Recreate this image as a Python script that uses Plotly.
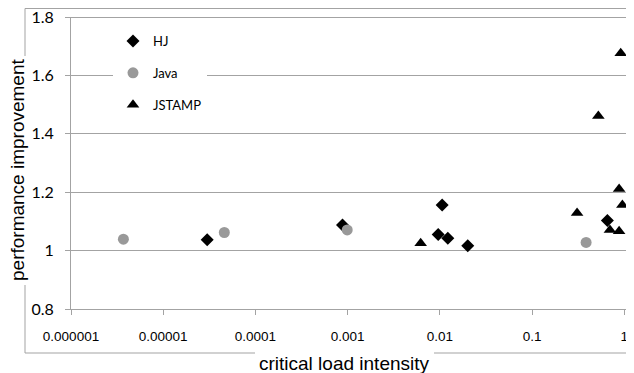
import plotly.graph_objects as go

# ---- data ----
hj_x = [3.0e-5, 8.8e-4, 0.0106, 0.0096, 0.0122, 0.0201, 0.656]
hj_y = [1.037, 1.088, 1.156, 1.055, 1.042, 1.017, 1.103]

java_x = [3.7e-6, 4.6e-5, 0.00099, 0.386]
java_y = [1.039, 1.062, 1.071, 1.028]

jstamp_x = [0.0062, 0.308, 0.524, 0.916, 0.88, 0.955, 0.70, 0.88]
jstamp_y = [1.025, 1.129, 1.461, 1.676, 1.211, 1.156, 1.071, 1.066]

x_tickvals = [1e-6, 1e-5, 1e-4, 1e-3, 1e-2, 1e-1, 1]
x_ticktext = ["0.000001", "0.00001", "0.0001", "0.001", "0.01", "0.1", "1"]
y_tickvals = [0.8, 1.0, 1.2, 1.4, 1.6, 1.8]
y_ticktext = ["0.8", "1", "1.2", "1.4", "1.6", "1.8"]

GRID = "#a3a3a3"
OFF = 8  # page body margin of the html page
W, H = 634 - OFF, 373 - OFF
ML, MR, MT = 71 - OFF, 7, 17 - OFF
PH = 292
MB = H - MT - PH
PW = W - ML - MR


def px2x(px):
    """page pixel x -> paper coordinate"""
    return (px - OFF - ML) / PW


def px2y(py):
    """page pixel y -> paper coordinate"""
    return (MT + PH - (py - OFF)) / PH


fig = go.Figure()
fig.add_trace(go.Scatter(x=hj_x, y=hj_y, mode="markers", name="HJ", legendgroup="a",
                         marker=dict(symbol="diamond", size=10, color="black")))
fig.add_trace(go.Scatter(x=java_x, y=java_y, mode="markers", name="Java", legendgroup="b",
                         marker=dict(symbol="circle", size=11, color="#999999")))
fig.add_trace(go.Scatter(x=jstamp_x, y=jstamp_y, mode="markers", name="JSTAMP", legendgroup="c",
                         marker=dict(symbol="triangle-up", size=11, color="black")))

line = dict(color=GRID, width=1)
shapes = [
    # top edge of plot (1.8 grid line)
    dict(type="line", xref="paper", yref="paper", x0=0, x1=1, y0=px2y(17.5), y1=px2y(17.5), line=line),
    # outer frame pieces, broken by the axis titles
    dict(type="line", xref="paper", yref="paper", x0=px2x(25), x1=px2x(634), y0=px2y(8.5), y1=px2y(8.5), line=line),
    dict(type="line", xref="paper", yref="paper", x0=px2x(25), x1=px2x(25), y0=px2y(8.5), y1=px2y(56), line=line),
    dict(type="line", xref="paper", yref="paper", x0=px2x(25), x1=px2x(25), y0=px2y(285), y1=px2y(353), line=line),
    dict(type="line", xref="paper", yref="paper", x0=px2x(25), x1=px2x(255), y0=px2y(353), y1=px2y(353), line=line),
    dict(type="line", xref="paper", yref="paper", x0=px2x(434), x1=px2x(634), y0=px2y(353), y1=px2y(353), line=line),
]

annotations = [
    dict(text="performance improvement", xref="paper", yref="paper", x=px2x(17), y=px2y(170),
         textangle=-90, showarrow=False, xanchor="center", yanchor="middle",
         font=dict(family="Liberation Sans, Arial", size=19, color="black")),
    dict(text="critical load intensity", xref="paper", yref="paper", x=px2x(344), y=px2y(363),
         showarrow=False, xanchor="center", yanchor="middle",
         font=dict(family="Liberation Sans, Arial", size=19, color="black")),
]

fig.update_layout(
    width=W, height=H,
    margin=dict(l=ML, r=MR, t=MT, b=MB, autoexpand=False),
    paper_bgcolor="white", plot_bgcolor="white",
    showlegend=True,
    legend=dict(x=px2x(113), y=px2y(26), xanchor="left", yanchor="top",
                bgcolor="white", borderwidth=0, tracegroupgap=12,
                font=dict(family="Lato, Open Sans", size=13, color="black")),
    shapes=shapes,
    annotations=annotations,
)

fig.update_xaxes(type="log", range=[-6, 0.03],
                 tickvals=x_tickvals, ticktext=x_ticktext,
                 showgrid=False, zeroline=False,
                 showline=True, linecolor=GRID, linewidth=1,
                 ticks="outside", ticklen=5, tickcolor=GRID,
                 ticklabelstandoff=10, ticklabeloverflow="allow",
                 tickfont=dict(family="Liberation Sans, Arial", size=13.5, color="black"))
fig.update_yaxes(range=[0.8, 1.8001],
                 tickvals=y_tickvals, ticktext=y_ticktext,
                 showgrid=True, gridcolor=GRID, gridwidth=1, zeroline=False,
                 showline=True, linecolor=GRID, linewidth=1,
                 ticks="outside", ticklen=5, tickcolor=GRID,
                 ticklabelstandoff=8, ticklabeloverflow="allow",
                 tickfont=dict(family="Lato, Open Sans", size=16, color="black"))

fig.write_html("out.html")
